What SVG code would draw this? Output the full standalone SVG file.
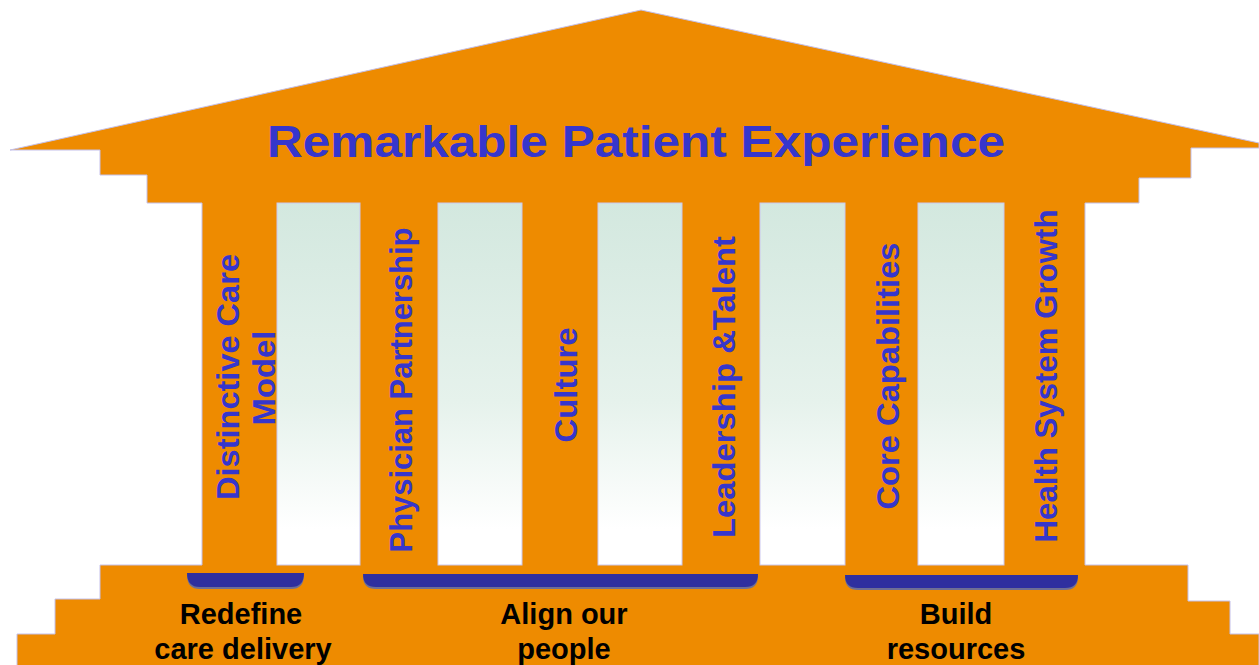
<svg xmlns="http://www.w3.org/2000/svg" width="1259" height="665" viewBox="0 0 1259 665">
<style>
.body{fill:#EE8B00;stroke:#c4c0ea;stroke-width:1}
.gap{fill:url(#gapGrad);stroke:#cbc8ef;stroke-width:1}
.title{font-family:"Liberation Sans",Arial,sans-serif;font-weight:bold;font-size:45px;fill:#3636CC}
.vt{font-family:"Liberation Sans",Arial,sans-serif;font-weight:bold;font-size:31px;fill:#3636CC;text-anchor:middle}
.lbl{font-family:"Liberation Sans",Arial,sans-serif;font-weight:bold;font-size:29px;fill:#000;text-anchor:middle}
.barShadow{fill:#6f6f95}
.bar{fill:#2f2f9f}
</style>
<defs>
<linearGradient id="gapGrad" x1="0" y1="0" x2="0" y2="1">
<stop offset="0" stop-color="#d3e8df"/>
<stop offset="0.55" stop-color="#e6f2ec"/>
<stop offset="0.9" stop-color="#ffffff"/>
<stop offset="1" stop-color="#ffffff"/>
</linearGradient>
</defs>
<rect width="1259" height="665" fill="#ffffff"/>
<g id="temple">
<polygon class="body" points="641,10 1259,143 1259,148 1191,148 1191,178 1139,178 1139,203 1085,203 1085,565 1188,565 1188,601 1230,601 1230,634 1259,634 1259,666 17,666 17,634 55,634 55,599 100,599 100,565 202,565 202,203 147,203 147,175 100,175 100,150 10,150"/>
<rect class="gap" x="277" y="203" width="83" height="362"/>
<rect class="gap" x="438" y="203" width="84" height="362"/>
<rect class="gap" x="598" y="203" width="84" height="362"/>
<rect class="gap" x="760" y="203" width="85" height="362"/>
<rect class="gap" x="918" y="203" width="86" height="362"/>
</g>
<g id="title">
<text class="title" x="267" y="157" textLength="738" lengthAdjust="spacingAndGlyphs">Remarkable Patient Experience</text>
</g>
<g id="pillar-distinctive-care-model">
<text class="vt" transform="translate(239,377) rotate(-90)" textLength="246" lengthAdjust="spacingAndGlyphs">Distinctive Care</text>
<text class="vt" transform="translate(275,378) rotate(-90)" textLength="95" lengthAdjust="spacingAndGlyphs">Model</text>
</g>
<g id="pillar-physician-partnership">
<text class="vt" transform="translate(412,390) rotate(-90)" textLength="325" lengthAdjust="spacingAndGlyphs">Physician Partnership</text>
</g>
<g id="pillar-culture">
<text class="vt" transform="translate(577,385) rotate(-90)" textLength="115" lengthAdjust="spacingAndGlyphs">Culture</text>
</g>
<g id="pillar-leadership-talent">
<text class="vt" transform="translate(735,387) rotate(-90)" textLength="302" lengthAdjust="spacingAndGlyphs">Leadership &amp;Talent</text>
</g>
<g id="pillar-core-capabilities">
<text class="vt" transform="translate(899,376) rotate(-90)" textLength="267" lengthAdjust="spacingAndGlyphs">Core Capabilities</text>
</g>
<g id="pillar-health-system-growth">
<text class="vt" transform="translate(1057,376) rotate(-90)" textLength="333" lengthAdjust="spacingAndGlyphs">Health System Growth</text>
</g>
<g id="connectors">
<path class="barShadow" d="M187,575 H304 Q304,589 291,589 H200 Q187,589 187,575 Z"/>
<path class="bar" d="M187,573 H304 Q304,587 291,587 H200 Q187,587 187,573 Z"/>
<path class="barShadow" d="M363,576 H758 Q758,589 745,589 H376 Q363,589 363,576 Z"/>
<path class="bar" d="M363,574 H758 Q758,587 745,587 H376 Q363,587 363,574 Z"/>
<path class="barShadow" d="M845,577 H1078 Q1078,590 1065,590 H858 Q845,590 845,577 Z"/>
<path class="bar" d="M845,575 H1078 Q1078,588 1065,588 H858 Q845,588 845,575 Z"/>
</g>
<g id="label-redefine">
<text class="lbl" x="241" y="624">Redefine</text>
<text class="lbl" x="243" y="659">care delivery</text>
</g>
<g id="label-align">
<text class="lbl" x="564" y="624">Align our</text>
<text class="lbl" x="564" y="659">people</text>
</g>
<g id="label-build">
<text class="lbl" x="956" y="624">Build</text>
<text class="lbl" x="956" y="659">resources</text>
</g>
</svg>
